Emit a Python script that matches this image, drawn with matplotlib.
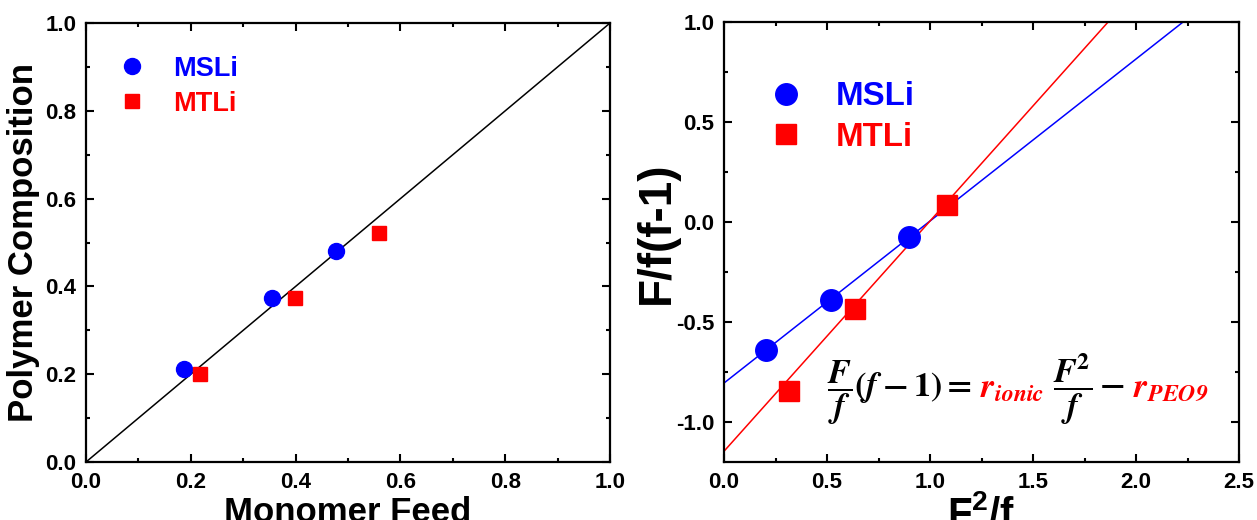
import numpy as np
import matplotlib
matplotlib.use("Agg")
import matplotlib.pyplot as plt
from matplotlib.offsetbox import TextArea, HPacker, AnchoredOffsetbox
from matplotlib.ticker import MultipleLocator

plt.rcParams['font.family'] = ['Liberation Sans', 'DejaVu Sans']
plt.rcParams['font.weight'] = 'bold'
plt.rcParams['axes.unicode_minus'] = False
plt.rcParams['mathtext.fontset'] = 'custom'
plt.rcParams['mathtext.rm'] = 'Liberation Sans'
plt.rcParams['mathtext.bf'] = 'Liberation Sans:bold'
plt.rcParams['mathtext.it'] = 'Liberation Sans:italic'

# ---- data: left panel (composition) ----
mono_feed_msli = [0.188, 0.355, 0.477]
poly_comp_msli = [0.213, 0.373, 0.481]
mono_feed_mtli = [0.217, 0.399, 0.559]
poly_comp_mtli = [0.201, 0.373, 0.521]
ideal_line = [0.0, 1.0]

# ---- data: right panel (Fineman-Ross) ----
fr_x_msli = [0.202, 0.52, 0.90]
fr_y_msli = [-0.642, -0.389, -0.077]
fr_x_mtli = [0.315, 0.637, 1.081]
fr_y_mtli = [-0.847, -0.436, 0.085]
fit_msli = (0.81, -0.805)   # slope, intercept
fit_mtli = (1.151, -1.146)
fit_x = [0.0, 2.5]

series_names = ["MSLi", "MTLi"]
series_colors = ["#0000ff", "#ff0000"]

fig = plt.figure(figsize=(12.57, 5.2), dpi=100)
ax1 = fig.add_axes([0.0684, 0.1115, 0.4169, 0.8442])
ax2 = fig.add_axes([0.576, 0.1115, 0.4097, 0.8462])


def style(ax):
    for s in ax.spines.values():
        s.set_linewidth(1.6)
    ax.tick_params(which='both', direction='in', top=True, right=True,
                   width=1.5, labelsize=16, pad=7)
    ax.tick_params(which='major', length=5.5)
    ax.tick_params(which='minor', length=3)
    for lab in ax.get_xticklabels() + ax.get_yticklabels():
        lab.set_fontweight('bold')


# left panel
ax1.plot(ideal_line, ideal_line, color='black', lw=1.1, zorder=1)
ax1.plot(mono_feed_msli, poly_comp_msli, 'o', color=series_colors[0], ms=11.5,
         label=series_names[0], zorder=3, linestyle='none')
ax1.plot(mono_feed_mtli, poly_comp_mtli, 's', color=series_colors[1], ms=10.5,
         label=series_names[1], zorder=3, linestyle='none')
ax1.set_xlim(0, 1)
ax1.set_ylim(0, 1)
ax1.xaxis.set_major_locator(MultipleLocator(0.2))
ax1.xaxis.set_minor_locator(MultipleLocator(0.1))
ax1.yaxis.set_major_locator(MultipleLocator(0.2))
ax1.yaxis.set_minor_locator(MultipleLocator(0.1))
ax1.set_xlabel("Monomer Feed", fontsize=25, fontweight='bold', labelpad=2)
ax1.set_ylabel("Polymer Composition", fontsize=25, fontweight='bold', labelpad=4)
style(ax1)
ax1.legend(loc='upper left', bbox_to_anchor=(0.057, 0.925), frameon=False,
           prop={'weight': 'bold', 'size': 19.5}, borderpad=0, borderaxespad=0,
           labelcolor='markerfacecolor', handletextpad=0.9, labelspacing=0.32,
           handlelength=1.2)

# right panel
fx = np.array(fit_x)
ax2.plot(fx, fit_msli[0] * fx + fit_msli[1], color=series_colors[0], lw=1.1, zorder=1)
ax2.plot(fx, fit_mtli[0] * fx + fit_mtli[1], color=series_colors[1], lw=1.1, zorder=1)
ax2.plot(fr_x_msli, fr_y_msli, 'o', color=series_colors[0], ms=15.5,
         label=series_names[0], zorder=3, linestyle='none')
ax2.plot(fr_x_mtli, fr_y_mtli, 's', color=series_colors[1], ms=14,
         label=series_names[1], zorder=3, linestyle='none')
ax2.set_xlim(0, 2.5)
ax2.set_ylim(-1.2, 1.0)
ax2.xaxis.set_major_locator(MultipleLocator(0.5))
ax2.xaxis.set_minor_locator(MultipleLocator(0.25))
ax2.yaxis.set_major_locator(MultipleLocator(0.5))
ax2.yaxis.set_minor_locator(MultipleLocator(0.25))
ax2.set_xlabel(r"F$^\mathbf{2}$/f", fontsize=29, fontweight='bold', labelpad=1)
ax2.set_ylabel("F/f(f-1)", fontsize=33, fontweight='bold', labelpad=0)
ax2.yaxis.set_label_coords(-0.088, 0.52)
style(ax2)
ax2.legend(loc='upper left', bbox_to_anchor=(0.088, 0.865), frameon=False,
           prop={'weight': 'bold', 'size': 23.8}, borderpad=0, borderaxespad=0,
           labelcolor='markerfacecolor', handletextpad=1.0, labelspacing=0.28,
           handlelength=1.0)

# equation
eq_size = 24.5
parts = [
    (r"$\dfrac{\mathbfit{F}}{\mathbfit{f}}(\mathbfit{f}-\mathbf{1})=$", 'black'),
    (r"$\mathbfit{r}_{\mathbfit{ionic}}$", series_colors[1]),
    (r"$\dfrac{\mathbfit{F}^{\mathbf{2}}}{\mathbfit{f}}-$", 'black'),
    (r"$\mathbfit{r}_{\mathbfit{PEO9}}$", series_colors[1]),
]
boxes = [TextArea(t, textprops=dict(color=c, fontsize=eq_size, math_fontfamily='stix'))
         for t, c in parts]
pack = HPacker(children=boxes, align='baseline', pad=0, sep=6)
anch = AnchoredOffsetbox(loc='center left', child=pack, pad=0, borderpad=0,
                         frameon=False, bbox_to_anchor=(0.2, 0.164),
                         bbox_transform=ax2.transAxes)
ax2.add_artist(anch)

fig.savefig("out.png", dpi=100)
